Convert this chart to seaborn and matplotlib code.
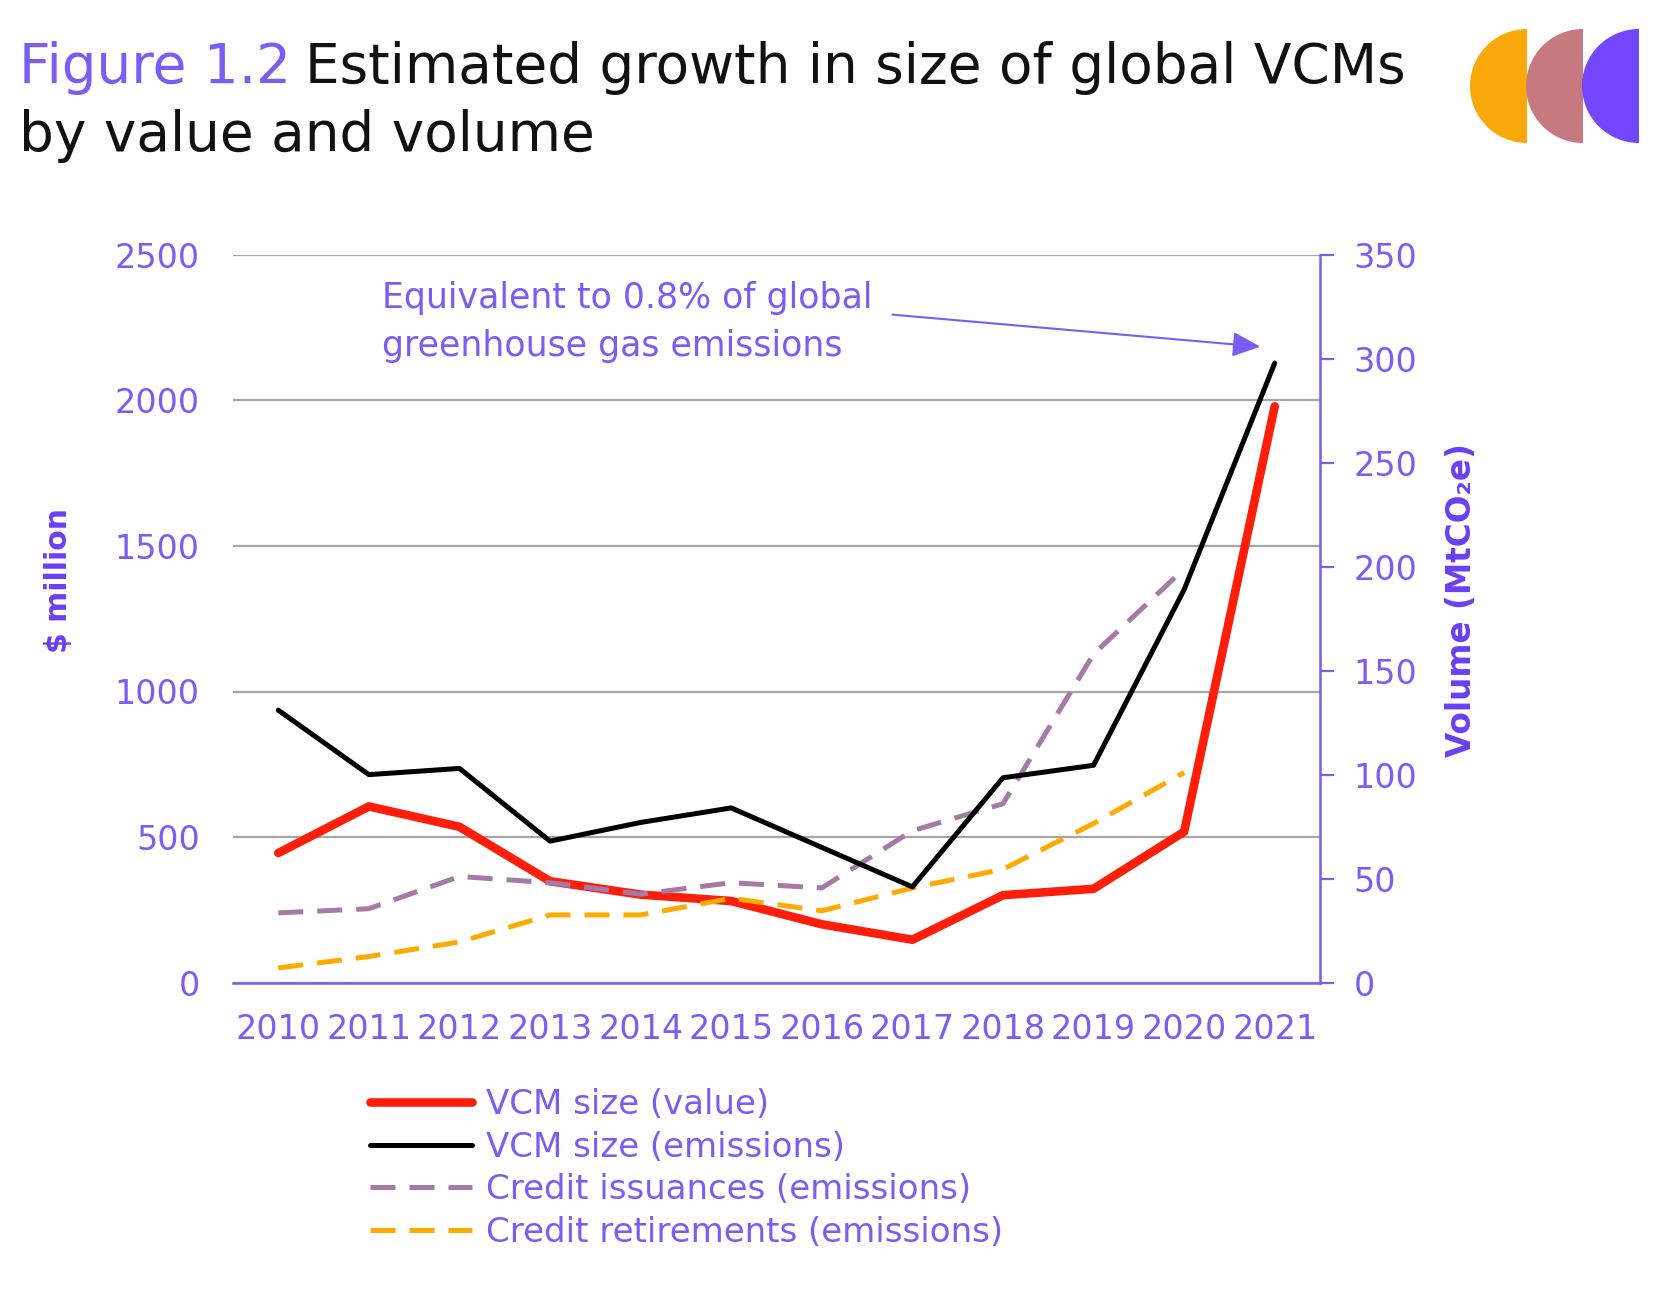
import numpy as np
import pandas as pd
import matplotlib.pyplot as plt
import matplotlib.patches as mpatches
import seaborn as sns

# data
years = [2010, 2011, 2012, 2013, 2014, 2015, 2016, 2017, 2018, 2019, 2020, 2021]
vcm_value = [445, 605, 535, 348, 302, 280, 200, 147, 300, 322, 518, 1980]      # $ million (left axis)
vcm_emissions = [131, 100, 103, 68, 77, 84, 65, 46, 98.5, 104.5, 189, 298]    # MtCO2e (right axis)
issuances = [33.5, 35.5, 51, 48, 42.5, 48, 45.5, 73, 86, 158, 199]            # 2010-2020 only
retirements = [7, 12.5, 19.5, 32.5, 32.5, 40.5, 34.5, 45.5, 54.5, 76.5, 101]   # 2010-2020 only
left_ticks = [0, 500, 1000, 1500, 2000, 2500]
right_ticks = [0, 50, 100, 150, 200, 250, 300, 350]

PURPLE = "#7B5CF5"
PURPLE_DARK = "#6A3FF5"
W, H = 1660, 1292

sns.set_style("white")
plt.rcParams["font.family"] = ["DejaVu Sans"]

fig = plt.figure(figsize=(W / 100, H / 100), dpi=100)
ax = fig.add_axes([233 / W, 1 - 982.5 / H, (1320 - 233) / W, (982.5 - 255) / H])
ax2 = ax.twinx()

df_val = pd.DataFrame({"year": years, "value": vcm_value})
df_em = pd.DataFrame({"year": years, "value": vcm_emissions})
df_iss = pd.DataFrame({"year": years[:len(issuances)], "value": issuances})
df_ret = pd.DataFrame({"year": years[:len(retirements)], "value": retirements})

sns.lineplot(data=df_val, x="year", y="value", ax=ax, color="#FF1E0A", lw=6.2,
             label="VCM size (value)", legend=False)
sns.lineplot(data=df_iss, x="year", y="value", ax=ax2, color="#A67AA6", lw=3.6,
             linestyle=(0, (5, 2.8)), label="Credit issuances (emissions)", legend=False)
sns.lineplot(data=df_ret, x="year", y="value", ax=ax2, color="#FFAA00", lw=3.6,
             linestyle=(0, (5, 2.8)), label="Credit retirements (emissions)", legend=False)
sns.lineplot(data=df_em, x="year", y="value", ax=ax2, color="black", lw=3.6,
             label="VCM size (emissions)", legend=False)

# left axis
ax.set_xlim(years[0] - 0.5, years[-1] + 0.5)
ax.set_ylim(0, 2500)
ax.set_yticks(left_ticks)
ax.yaxis.grid(True, color="#A6A6A6", lw=1.6)
ax.set_axisbelow(True)
ax.tick_params(axis="y", length=0, pad=24, labelsize=24, labelcolor=PURPLE)
ax.set_xticks(years)
ax.set_xticklabels([str(y) for y in years])
ax.tick_params(axis="x", which="major", length=0, pad=22, labelsize=24, labelcolor=PURPLE)
ax.set_xticks(np.arange(years[0] - 0.5, years[-1] + 1, 1), minor=True)
ax.tick_params(axis="x", which="minor", length=10, width=1.6, color=PURPLE, direction="out")
ax.set_xlabel("")
ax.set_ylabel("")
for s in ["left", "top", "right"]:
    ax.spines[s].set_visible(False)
ax.spines["bottom"].set_color(PURPLE)
ax.spines["bottom"].set_linewidth(1.8)

# right axis
ax2.set_ylim(0, 350)
ax2.set_yticks(right_ticks)
ax2.tick_params(axis="y", length=10, width=1.6, color=PURPLE, pad=14, labelsize=24, labelcolor=PURPLE)
ax2.set_ylabel("")
ax2.grid(False)
for s in ["left", "top", "bottom"]:
    ax2.spines[s].set_visible(False)
ax2.spines["right"].set_color(PURPLE)
ax2.spines["right"].set_linewidth(1.8)

# axis titles
fig.text(58 / W, 1 - 580 / H, "\\$ million", rotation=90, ha="center", va="center",
         fontsize=21.5, fontweight="bold", color=PURPLE_DARK)
fig.text(1461 / W, 1 - 600 / H, "Volume (MtCO₂e)", rotation=90, ha="center", va="center",
         fontsize=23.5, fontweight="bold", color=PURPLE_DARK)

# annotation
ax.text(2011.15, 2410, "Equivalent to 0.8% of global\ngreenhouse gas emissions", ha="left", va="top",
        fontsize=25, color=PURPLE, linespacing=1.5)
ax.annotate("", xy=(2020.84, 2185), xytext=(2016.78, 2295),
            arrowprops=dict(arrowstyle="-|>,head_length=0.85,head_width=0.38", mutation_scale=20,
                            color=PURPLE, lw=1.5, shrinkA=0, shrinkB=0))

# title
t1 = fig.text(19 / W, 1 - 83 / H, "Figure 1.2", fontsize=39.5, color=PURPLE, ha="left", va="baseline")
fig.canvas.draw()
bb = t1.get_window_extent()
fig.text((bb.x1 + 14) / W, 1 - 83 / H, "Estimated growth in size of global VCMs", fontsize=39.5,
         color="#111111", ha="left", va="baseline")
fig.text(19 / W, 1 - 151 / H, "by value and volume", fontsize=39.5, color="#111111",
         ha="left", va="baseline")

# logo: three half discs
lax = fig.add_axes([1460 / W, 1 - 150 / H, 190 / W, 130 / H])
lax.set_xlim(1460, 1650)
lax.set_ylim(-150, -20)
lax.set_aspect("equal")
lax.axis("off")
for xr, c in zip([1527, 1583, 1639], ["#FBA90A", "#C67A80", "#7247FF"]):
    lax.add_patch(mpatches.Wedge((xr, -86), 57, 90, 270, color=c, lw=0))

# legend
h1, l1 = ax.get_legend_handles_labels()
h2, l2 = ax2.get_legend_handles_labels()
handles = dict(zip(l1 + l2, h1 + h2))
order = ["VCM size (value)", "VCM size (emissions)", "Credit issuances (emissions)",
         "Credit retirements (emissions)"]
fig.legend([handles[k] for k in order], order, loc="upper left",
           bbox_to_anchor=(370 / W, 1 - 1088 / H), frameon=False, handlelength=3.0,
           handletextpad=0.4, labelspacing=0.28, fontsize=24.5, labelcolor=PURPLE,
           borderpad=0, borderaxespad=0)

fig.savefig("out.png", dpi=100, facecolor="white")
